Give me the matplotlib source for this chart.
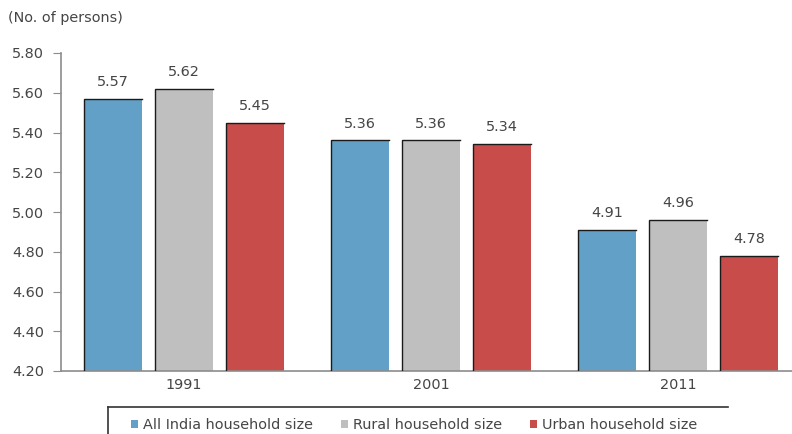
import numpy as np
import matplotlib.pyplot as plt
from matplotlib.lines import Line2D

plt.rcParams['font.family'] = ['DejaVu Sans']

# Household size by census year
years = ['1991', '2001', '2011']
all_india = [5.57, 5.36, 4.91]
rural = [5.62, 5.36, 4.96]
urban = [5.45, 5.34, 4.78]
series_names = ['All India household size', 'Rural household size', 'Urban household size']
colors = ['#62A0C8', '#BFBFBF', '#C84C4A']
text_color = '#454545'
fs = 10.4

fig = plt.figure(figsize=(7.92, 4.34), dpi=100)
ax = fig.add_axes([60.5 / 792, 63 / 434, 741 / 792, 318 / 434])

x = np.arange(len(years))
width = 0.235
step = 0.288
base = 4.20

for i, (vals, col, name) in enumerate(zip([all_india, rural, urban], colors, series_names)):
    pos = x + (i - 1) * step
    bars = ax.bar(pos, np.array(vals) - base, width, bottom=base, color=col, label=name)
    for b, v in zip(bars, vals):
        x0 = b.get_x()
        top = b.get_y() + b.get_height()
        # dark outline along the left side and top of each bar
        ax.plot([x0, x0, x0 + b.get_width()], [base, top, top], color='#1a1a1a', lw=1.0,
                solid_joinstyle='miter', zorder=3)
        ax.text(b.get_x() + b.get_width() / 2, top + 0.05, f'{v:.2f}', ha='center', va='bottom',
                fontsize=fs, color=text_color)

ax.set_ylim(4.20, 5.80)
ax.set_yticks(np.arange(4.20, 5.81, 0.20))
ax.set_yticklabels([f'{t:.2f}' for t in np.arange(4.20, 5.81, 0.20)])
ax.set_xlim(-0.5, 2.5)
ax.set_xticks(x)
ax.set_xticklabels(years)

for s in ['top', 'right']:
    ax.spines[s].set_visible(False)
for s in ['left', 'bottom']:
    ax.spines[s].set_color('#8c8c8c')
    ax.spines[s].set_linewidth(1.2)
ax.tick_params(axis='y', direction='out', length=6, color='#8c8c8c', labelsize=fs,
               labelcolor=text_color, pad=6)
ax.tick_params(axis='x', length=0, labelsize=fs, labelcolor=text_color, pad=5)

fig.text(8 / 792, 1 - 18 / 434, '(No. of persons)', fontsize=fs, color=text_color, va='center')

# legend strip, cut off at the bottom edge
leg = fig.legend(loc='center left', bbox_to_anchor=(118 / 792, 1 - 425 / 434), ncol=3,
                 frameon=False, fontsize=fs, handlelength=0.5, handleheight=0.5,
                 handletextpad=0.35, columnspacing=1.9, labelcolor=text_color)
fig.add_artist(Line2D([108 / 792, 728 / 792], [1 - 407 / 434, 1 - 407 / 434],
                      transform=fig.transFigure, color='#333333', lw=1.2))
fig.add_artist(Line2D([108 / 792, 108 / 792], [1 - 407 / 434, 0],
                      transform=fig.transFigure, color='#333333', lw=1.2))

fig.savefig('out.png', dpi=100)
